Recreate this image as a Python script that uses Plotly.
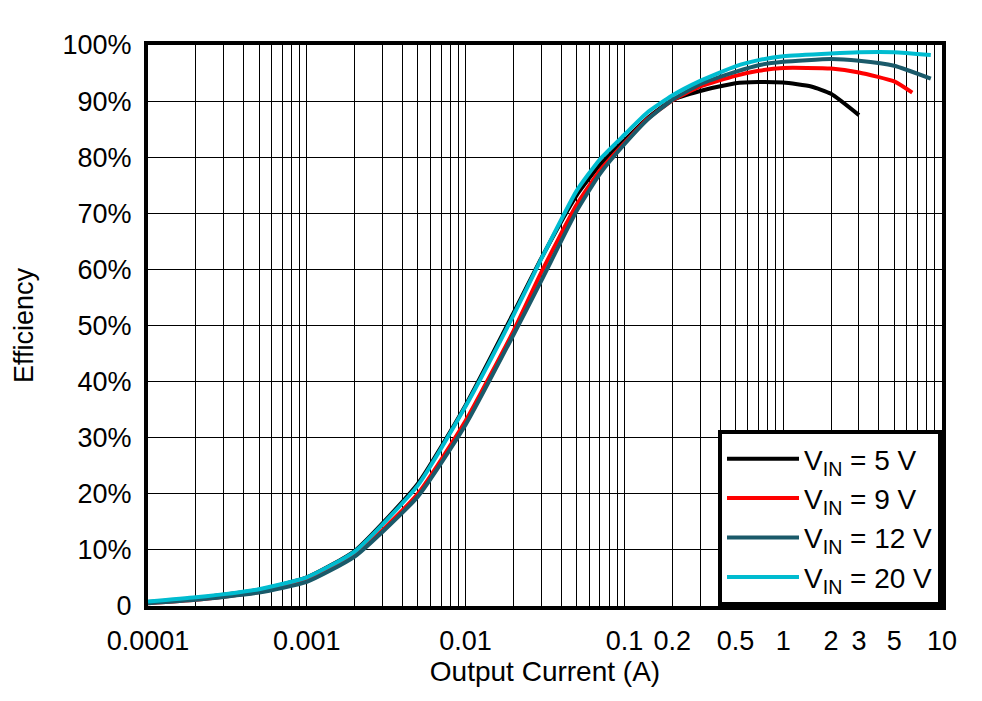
import plotly.graph_objects as go

# ---------------- data ----------------
x_5v = [0.0001, 0.0002, 0.0005, 0.001, 0.002, 0.005, 0.01, 0.02, 0.03, 0.05, 0.07, 0.1, 0.14, 0.2, 0.3, 0.5, 0.7, 1, 1.5, 2, 3]
eff_5v = [0.7, 1.4, 2.9, 5.1, 9.8, 21.8, 35.8, 52.2, 62.0, 73.2, 78.6, 83.0, 87.0, 90.2, 91.8, 93.2, 93.4, 93.3, 92.6, 91.3, 87.5]

x_9v = [0.0001, 0.0002, 0.0005, 0.001, 0.002, 0.005, 0.01, 0.02, 0.03, 0.05, 0.07, 0.1, 0.14, 0.2, 0.3, 0.5, 0.7, 1, 2, 3, 5, 6.5]
eff_9v = [0.5, 1.1, 2.5, 4.5, 9.0, 20.0, 33.0, 49.0, 59.5, 71.5, 77.6, 82.5, 86.8, 90.1, 92.6, 94.5, 95.4, 95.9, 95.8, 95.1, 93.5, 91.5]

x_12v = [0.0001, 0.0002, 0.0005, 0.001, 0.002, 0.005, 0.01, 0.02, 0.03, 0.05, 0.07, 0.1, 0.14, 0.2, 0.3, 0.5, 0.7, 1, 2, 3, 5, 8.5]
eff_12v = [0.5, 1.1, 2.4, 4.3, 8.8, 19.5, 32.3, 48.3, 58.0, 70.4, 77.0, 82.3, 86.7, 90.2, 93.0, 95.2, 96.4, 97.0, 97.5, 97.2, 96.3, 94.0]

x_20v = [0.0001, 0.0002, 0.0005, 0.001, 0.002, 0.005, 0.01, 0.02, 0.03, 0.05, 0.07, 0.1, 0.14, 0.2, 0.3, 0.5, 0.7, 1, 2, 3, 5, 8.5]
eff_20v = [0.8, 1.55, 3.0, 5.1, 9.7, 21.5, 35.6, 51.8, 61.9, 74.0, 79.6, 84.0, 88.0, 91.0, 93.6, 96.2, 97.3, 98.0, 98.5, 98.7, 98.7, 98.2]

series_names = ["V<sub>IN</sub> = 5 V", "V<sub>IN</sub> = 9 V", "V<sub>IN</sub> = 12 V", "V<sub>IN</sub> = 20 V"]
series_colors = ["#000000", "#FF0000", "#1A5A6A", "#00BCD0"]

x_labeled = {0.0001: "0.0001", 0.001: "0.001", 0.01: "0.01", 0.1: "0.1", 0.2: "0.2",
             0.5: "0.5", 1: "1", 2: "2", 3: "3", 5: "5", 10: "10"}
y_tickvals = [0, 10, 20, 30, 40, 50, 60, 70, 80, 90, 100]
y_ticktext = ["0", "10%", "20%", "30%", "40%", "50%", "60%", "70%", "80%", "90%", "100%"]

# ---------------- figure ----------------
FONT = "Liberation Sans, Arial, sans-serif"
FS = 27

fig = go.Figure()
for xs, ys, name, col in zip([x_5v, x_9v, x_12v, x_20v], [eff_5v, eff_9v, eff_12v, eff_20v],
                             series_names, series_colors):
    fig.add_trace(go.Scatter(x=xs, y=ys, mode="lines", name=name,
                             line=dict(color=col, width=4, shape="spline", smoothing=0.5)))

# log grid: every 1..9 multiple per decade
x_tickvals, x_ticktext = [], []
for dec in [0.0001, 0.001, 0.01, 0.1, 1]:
    for m in range(1, 10):
        v = round(dec * m, 6)
        x_tickvals.append(v)
        x_ticktext.append(x_labeled.get(v, ""))
x_tickvals.append(10)
x_ticktext.append("10")

fig.update_xaxes(type="log", range=[-4, 1], tickvals=x_tickvals, ticktext=x_ticktext,
                 showgrid=True, gridcolor="black", gridwidth=1,
                 showline=True, linecolor="black", linewidth=4, mirror=True,
                 ticks="", ticklabelstandoff=8,
                 tickfont=dict(family=FONT, size=FS, color="black"),
                 title=dict(text="Output Current (A)", font=dict(family=FONT, size=28, color="black"),
                            standoff=6),
                 zeroline=False)
fig.update_yaxes(range=[0, 100], tickvals=y_tickvals, ticktext=y_ticktext,
                 showgrid=True, gridcolor="black", gridwidth=1,
                 showline=True, linecolor="black", linewidth=4, mirror=True,
                 ticks="", ticklabelstandoff=7,
                 tickfont=dict(family=FONT, size=FS, color="black"),
                 title=dict(text="Efficiency", font=dict(family=FONT, size=FS, color="black"),
                            standoff=22),
                 zeroline=False)

fig.update_layout(
    width=982, height=701,
    margin=dict(l=148, r=40, t=45, b=95, autoexpand=False),
    paper_bgcolor="white", plot_bgcolor="white",
    font=dict(family=FONT, size=FS, color="black"),
    showlegend=True,
    legend=dict(x=1, y=0, xanchor="right", yanchor="bottom",
                bgcolor="white", bordercolor="black", borderwidth=4,
                font=dict(family=FONT, size=28, color="black"),
                itemwidth=72, tracegroupgap=0),
)

fig.write_html("out.html", config={"displayModeBar": False},
               post_script="document.body.style.margin='0';document.body.style.overflow='hidden';")
